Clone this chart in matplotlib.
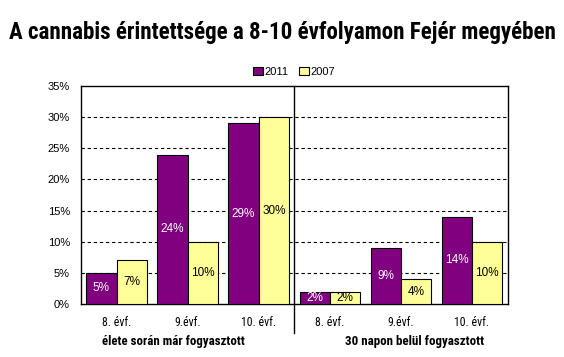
import matplotlib
matplotlib.use("Agg")
import matplotlib.pyplot as plt
import numpy as np
from matplotlib.font_manager import fontManager

names = {f.name for f in fontManager.ttflist}
NARROW = None
for cand in ['Liberation Sans Narrow', 'Arial Narrow', 'Roboto Condensed', 'Open Sans Condensed']:
    if cand in names:
        NARROW = cand
        break
plt.rcParams['font.family'] = ['Liberation Sans', 'DejaVu Sans']
FAM = [NARROW, 'Liberation Sans'] if NARROW else ['Liberation Sans']

title = "A cannabis érintettsége a 8-10 évfolyamon Fejér megyében"
categories = ["8. évf.", "9.évf.", "10. évf.", "8. évf.", "9.évf.", "10. évf."]
groups = ["élete során már fogyasztott", "30 napon belül fogyasztott"]
series_names = ["2011", "2007"]
values_2011 = [5, 24, 29, 2, 9, 14]
values_2007 = [7, 10, 30, 2, 4, 10]
yticks = [0, 5, 10, 15, 20, 25, 30, 35]

W, H = 564, 357
fig = plt.figure(figsize=(W/100, H/100), dpi=100)
ax = fig.add_axes([81/W, 1-304/H, (507.5-81)/W, (304-86)/H])

x = np.arange(len(categories))
w = 0.425
b1 = ax.bar(x - w/2, values_2011, w, color='#800080', edgecolor='black', linewidth=0.8, label=series_names[0], zorder=3)
b2 = ax.bar(x + w/2, values_2007, w, color='#FFFF99', edgecolor='black', linewidth=0.8, label=series_names[1], zorder=3)

for rect, v in zip(b1, values_2011):
    ax.text(rect.get_x() + rect.get_width()/2, v/2, f"{v}%", ha='center', va='center',
            color='white', fontsize=8.5, zorder=4)
for rect, v in zip(b2, values_2007):
    ax.text(rect.get_x() + rect.get_width()/2, v/2, f"{v}%", ha='center', va='center',
            color='black', fontsize=8.5, zorder=4)

ax.set_xlim(-0.5, len(categories) - 0.5)
ax.set_ylim(0, 35)
ax.set_yticks(yticks)
ax.set_yticklabels([f"{t}%" for t in yticks], fontsize=8)
for t in yticks[1:-1]:
    ax.axhline(t, color='black', linestyle=(0, (3, 2.5)), linewidth=0.8, zorder=1)
ax.set_xticks(x)
ax.set_xticklabels(categories, fontsize=8.5, family=FAM)
ax.tick_params(axis='x', length=0, pad=8.5)
ax.tick_params(axis='y', length=0, pad=8)
for s in ax.spines.values():
    s.set_linewidth(1.0)

# separator between groups
trans = ax.get_xaxis_transform()
ax.plot([2.5, 2.5], [1, -29/218], color='black', linewidth=1.0, transform=trans, clip_on=False, zorder=5)

# group labels
glab1 = fig.text(173.5/W, 1-341/H, groups[0], ha='center', va='center', fontsize=9,
                 fontweight='bold', family=FAM)
glab2 = fig.text(415/W, 1-341/H, groups[1], ha='center', va='center', fontsize=9,
                 fontweight='bold', family=FAM)

ttl = fig.text(282/W, 1-32/H, title, ha='center', va='center', fontsize=16,
               fontweight='bold', family=FAM)

# fit text widths to the reference extents
fig.canvas.draw()
r = fig.canvas.get_renderer()
for t, target in [(ttl, 548), (glab1, 143), (glab2, 140)]:
    wpx = t.get_window_extent(r).width
    t.set_fontsize(min(t.get_fontsize() * target / wpx, 17))

leg = fig.legend(handles=[b1, b2], labels=series_names, loc='center', bbox_to_anchor=(294/W, 1-72/H),
                 ncol=2, frameon=False, fontsize=8, handlelength=0.9, handleheight=0.7,
                 handletextpad=0.1, columnspacing=1.0, borderpad=0)

fig.savefig("out.png", dpi=100)
